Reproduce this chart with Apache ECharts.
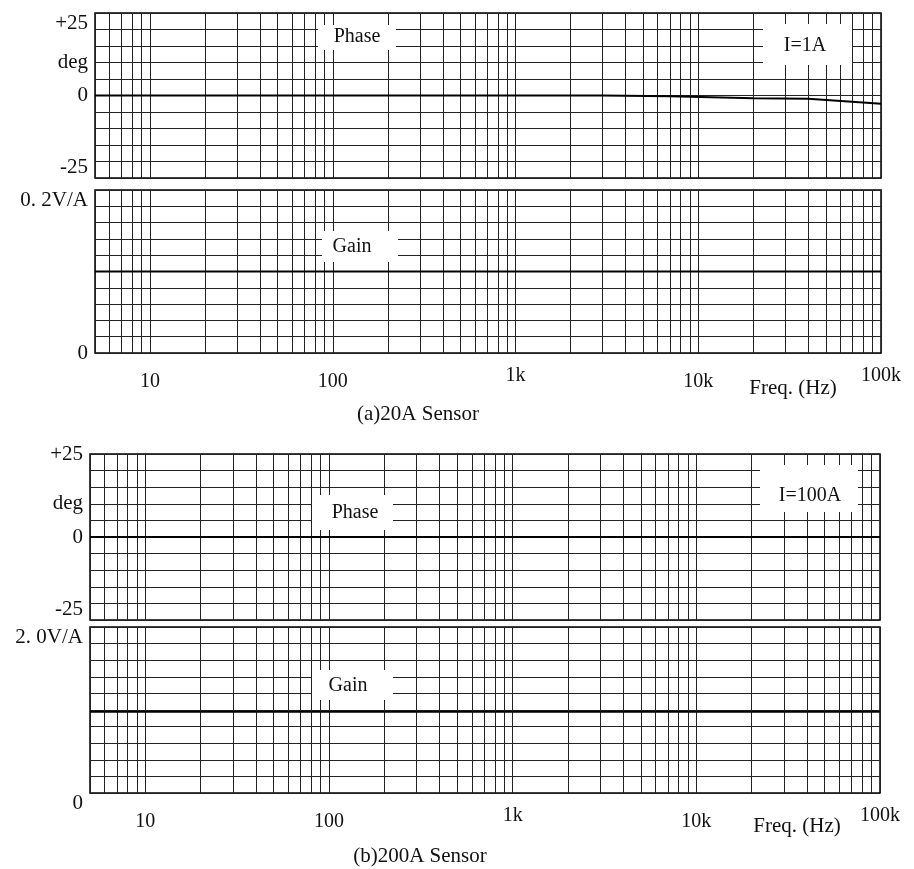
<!DOCTYPE html>
<html>
<head>
<meta charset="utf-8">
<script src="https://cdn.jsdelivr.net/npm/echarts@6/dist/echarts.min.js"></script>
<style>html,body{margin:0;padding:0;background:#fff}#c{width:914px;height:869px}</style>
</head>
<body>
<div id="c"></div>
<script>
// ---- data ----
const freqMin = 5;
const freqMax = 100000;
const xTickLabels = {10: '10', 100: '100', 1000: '1k', 10000: '10k', 100000: '100k'};
const minorGridFreqs = [6, 7, 8, 9,
  20, 30, 40, 50, 60, 70, 80, 90,
  200, 300, 400, 500, 600, 700, 800, 900,
  2000, 3000, 4000, 5000, 6000, 7000, 8000, 9000,
  20000, 30000, 40000, 50000, 60000, 70000, 80000, 90000];

const phaseAFreq = [5, 10, 100, 1000, 3000, 7000, 20000, 40000, 100000];
const phaseAVal  = [0, 0, 0, 0, 0, -0.2, -0.8, -1.0, -2.5];
const gainAFreq  = [5, 100, 1000, 10000, 100000];
const gainAVal   = [0.1, 0.1, 0.1, 0.1, 0.1];
const phaseBFreq = [5, 100, 1000, 10000, 100000];
const phaseBVal  = [0, 0, 0, 0, 0];
const gainBFreq  = [5, 100, 1000, 10000, 100000];
const gainBVal   = [0.98, 0.98, 0.98, 0.98, 0.98];

const phaseTickLabels = {25: '+25', 10: 'deg', 0: '0', '-25': '-25'};

// ---- styles ----
const FONT = '"Liberation Serif", "DejaVu Serif", serif';
const INK = '#111';
const GRIDC = '#222';

function zip(a, b) { return a.map((v, i) => [v, b[i]]); }

function makeGrid(left, right, top, height) {
  return {left, right, top, height, show: true, borderColor: '#000', borderWidth: 1.5, containLabel: false};
}

function makeX(gi, showLabels) {
  return {
    type: 'log', logBase: 10, min: freqMin, max: freqMax, gridIndex: gi,
    axisLine: {show: false}, axisTick: {show: false},
    splitLine: {show: true, lineStyle: {color: GRIDC, width: 1}},
    axisLabel: {
      show: showLabels, margin: 13, color: INK, fontFamily: FONT, fontSize: 20,
      showMinLabel: false,
      formatter: function (v) {
        const k = Math.round(v);
        const t = xTickLabels[k];
        if (!t) return '';
        return k === 1000 || k === 100000 ? '{u|' + t + '}' : '{d|' + t + '}';
      },
      rich: {
        u: {fontFamily: FONT, fontSize: 20, color: INK, padding: [0, 0, 0, 0]},
        d: {fontFamily: FONT, fontSize: 20, color: INK, padding: [6, 0, 0, 0]}
      }
    }
  };
}

function makePhaseY(gi, maxAlign, minAlign) {
  return {
    type: 'value', gridIndex: gi, min: -25, max: 25, interval: 5,
    axisLine: {show: false}, axisTick: {show: false},
    splitLine: {show: true, lineStyle: {color: GRIDC, width: 1}},
    axisLabel: {
      margin: 7, color: INK, fontFamily: FONT, fontSize: 21,
      showMinLabel: true, showMaxLabel: true,
      verticalAlignMaxLabel: maxAlign, verticalAlignMinLabel: minAlign,
      formatter: function (v) { const t = phaseTickLabels[Math.round(v)]; return t === undefined ? '' : t; }
    }
  };
}

function makeGainY(gi, maxVal, maxLabel, interval, minAlign) {
  return {
    type: 'value', gridIndex: gi, min: 0, max: maxVal, interval: interval,
    axisLine: {show: false}, axisTick: {show: false},
    splitLine: {show: true, lineStyle: {color: GRIDC, width: 1}},
    axisLabel: {
      margin: 7, color: INK, fontFamily: FONT, fontSize: 21,
      showMinLabel: true, showMaxLabel: true,
      verticalAlignMaxLabel: 'top', verticalAlignMinLabel: minAlign,
      formatter: function (v) {
        if (Math.abs(v - maxVal) < 1e-9) return maxLabel;
        if (Math.abs(v) < 1e-9) return '0';
        return '';
      }
    }
  };
}

function makeSeries(gi, freqs, vals) {
  return {
    type: 'line', xAxisIndex: gi, yAxisIndex: gi, data: zip(freqs, vals),
    showSymbol: false, symbol: 'none', smooth: false, animation: false,
    lineStyle: {color: '#000', width: 2}, z: 5,
    markLine: {
      silent: true, symbol: 'none', animation: false,
      label: {show: false},
      lineStyle: {color: GRIDC, width: 1, type: 'solid'},
      data: minorGridFreqs.map(f => ({xAxis: f}))
    }
  };
}

function box(x, y, w, h, text, cx, cy, size) {
  return {
    type: 'group', z: 100, children: [
      {type: 'rect', shape: {x: x, y: y, width: w, height: h}, style: {fill: '#fff'}, z: 100},
      {type: 'text', x: cx, y: cy, z: 101,
        style: {text: text, fill: INK, font: size + 'px ' + FONT, textAlign: 'center', textVerticalAlign: 'middle', align: 'center', verticalAlign: 'middle'}}
    ]
  };
}
function label(text, cx, cy, size) {
  return {type: 'text', x: cx, y: cy, z: 101,
    style: {text: text, fill: INK, font: size + 'px ' + FONT, textAlign: 'center', textVerticalAlign: 'middle', align: 'center', verticalAlign: 'middle'}};
}

const chart = echarts.init(document.getElementById('c'), null, {renderer: 'canvas'});
chart.setOption({
  backgroundColor: '#fff',
  animation: false,
  grid: [
    makeGrid(95, 33, 13, 165),
    makeGrid(95, 33, 190, 163),
    makeGrid(90, 34, 454, 166),
    makeGrid(90, 34, 627, 166)
  ],
  xAxis: [makeX(0, false), makeX(1, true), makeX(2, false), makeX(3, true)],
  yAxis: [
    makePhaseY(0, 'top', 'bottom'),
    makeGainY(1, 0.2, '0. 2V/A', 0.02, 'middle'),
    makePhaseY(2, 'middle', 'bottom'),
    makeGainY(3, 2.0, '2. 0V/A', 0.2, 'top')
  ],
  series: [
    makeSeries(0, phaseAFreq, phaseAVal),
    makeSeries(1, gainAFreq, gainAVal),
    makeSeries(2, phaseBFreq, phaseBVal),
    makeSeries(3, gainBFreq, gainBVal)
  ],
  graphic: [
    box(318, 25, 78, 25, 'Phase', 357, 37, 20),
    box(763, 24, 89, 41, 'I=1A', 805, 46, 20),
    box(322, 231, 76, 31, 'Gain', 352, 247, 20),
    box(312, 495, 81, 35, 'Phase', 355, 513, 20),
    box(760, 465, 98, 47, 'I=100A', 810, 496, 20),
    box(312, 670, 81, 30, 'Gain', 348, 686, 20),
    label('Freq. (Hz)', 793, 388, 21),
    label('(a)20A Sensor', 418, 414, 21),
    label('Freq. (Hz)', 797, 826, 21),
    label('(b)200A Sensor', 420, 856, 21)
  ]
});
</script>
</body>
</html>
